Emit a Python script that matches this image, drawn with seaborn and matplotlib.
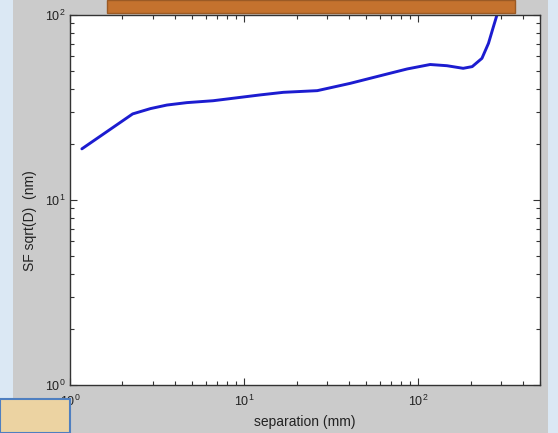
import matplotlib
matplotlib.use("Agg")
import matplotlib.pyplot as plt
import seaborn as sns
import pandas as pd
from matplotlib.patches import Rectangle
from matplotlib.ticker import LogLocator, NullFormatter

separation_mm = [1.17, 2.29, 2.9, 3.6, 4.69, 6.63, 12.4, 16.8, 26.3, 40.6, 62.9,
                 86.4, 117, 146, 181, 204, 232, 253, 270, 283]
sf_nm = [18.9, 29.2, 31.2, 32.6, 33.6, 34.4, 37.0, 38.2, 39.0, 42.7, 47.4,
         51.1, 54.0, 53.2, 51.5, 52.6, 58.3, 70.3, 86.4, 100]

df = pd.DataFrame({"separation": separation_mm, "sf": sf_nm})

sns.set_style("white")
plt.rcParams["font.family"] = ["Liberation Sans", "DejaVu Sans"]

fig = plt.figure(figsize=(5.58, 4.33), dpi=100)
fig.patch.set_facecolor("#cbcbcb")

# decorative screenshot background pieces
fig.patches.append(Rectangle((0, 0), 13/558, 1, transform=fig.transFigure,
                             facecolor="#dbe8f4", edgecolor="none", zorder=0))
fig.patches.append(Rectangle((548/558, 0), 10/558, 1, transform=fig.transFigure,
                             facecolor="#dbe8f4", edgecolor="none", zorder=0))
fig.patches.append(Rectangle((107/558, (433-13)/433), 408/558, 13/433,
                             transform=fig.transFigure, facecolor="#c4722e",
                             edgecolor="#9a5a25", linewidth=1, zorder=5))
fig.patches.append(Rectangle((0, 0), 70/558, 34/433, transform=fig.transFigure,
                             facecolor="#ecd3a2", edgecolor="#4f7fc0",
                             linewidth=1.5, zorder=5))

ax = fig.add_axes([70/558, 48/433, 470/558, 370/433])
ax.set_facecolor("white")

sns.lineplot(data=df, x="separation", y="sf", ax=ax, color="#1c1cd0",
             linewidth=2.1, sort=False)

ax.set_xscale("log")
ax.set_yscale("log")
ax.set_xlim(1, 500)
ax.set_ylim(1, 100)
ax.xaxis.set_major_locator(LogLocator(base=10))
ax.yaxis.set_major_locator(LogLocator(base=10))
ax.xaxis.set_minor_locator(LogLocator(base=10, subs=range(2, 10)))
ax.yaxis.set_minor_locator(LogLocator(base=10, subs=range(2, 10)))
ax.xaxis.set_minor_formatter(NullFormatter())
ax.yaxis.set_minor_formatter(NullFormatter())

ax.tick_params(which="both", direction="in", top=True, right=True,
               bottom=True, left=True,
               colors="#333333", labelcolor="#222222", labelsize=9)
ax.tick_params(which="major", length=5, width=0.8)
ax.tick_params(which="minor", length=3, width=0.8)
ax.tick_params(axis="x", which="major", pad=6)
for s in ax.spines.values():
    s.set_color("#333333")
    s.set_linewidth(1.0)

ax.set_xlabel("separation (mm)", fontsize=10, color="#222222")
ax.set_ylabel("SF sqrt(D)  (nm)", fontsize=10, color="#222222")
ax.xaxis.set_label_coords(0.5, -0.08)
ax.yaxis.set_label_coords(-0.07, 0.443)

fig.savefig("out.png", dpi=100, facecolor=fig.get_facecolor())
